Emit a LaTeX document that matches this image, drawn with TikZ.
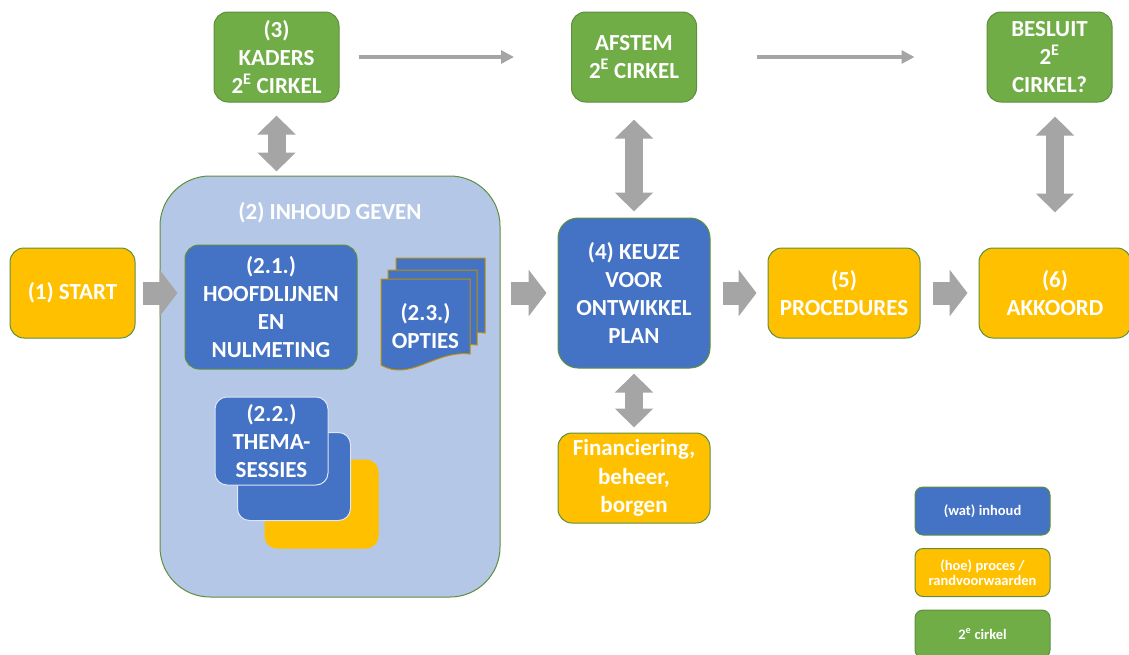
\documentclass[tikz,border=0pt]{standalone}
\usepackage{fontspec}
\setmainfont{Carlito}
\usepackage{tikz}
\usetikzlibrary{arrows.meta}
\definecolor{inhoudblauw}{HTML}{4472C4}
\definecolor{procesgeel}{HTML}{FFC000}
\definecolor{cirkelgroen}{HTML}{70AD47}
\definecolor{vlakblauw}{HTML}{B4C7E7}
\definecolor{pijlgrijs}{HTML}{A5A5A5}
\definecolor{randgroen}{HTML}{5E8F3C}
\definecolor{docrand}{HTML}{BF9000}
\newcommand*{\tweede}{2\textsuperscript{E}}

\begin{document}
\begin{tikzpicture}[x=1pt, y=-1pt,
    box/.style={rectangle, rounded corners=14pt, draw=randgroen, line width=1pt, text=white,
      align=center, inner sep=0pt, font=\bfseries\fontsize{23}{28.3}\selectfont},
    wat/.style={box, fill=inhoudblauw},
    hoe/.style={box, fill=procesgeel},
    kring/.style={box, fill=cirkelgroen},
    smal/.style={minimum width=125pt, minimum height=90pt},
    breed/.style={minimum width=152pt, minimum height=90pt},
    legenda/.style={minimum width=135pt, minimum height=48pt, rounded corners=8pt,
      font=\bfseries\fontsize{14.5}{15.5}\selectfont},
    stapel/.style={draw=vlakblauw!45!white, rounded corners=12pt, minimum width=113pt, minimum height=88pt},
    blok/.style={draw=pijlgrijs, line width=23pt, -{Triangle[width=46pt, length=18pt]}},
    heen/.style={draw=pijlgrijs, line width=18pt,
      {Triangle[width=37pt, length=19pt]}-{Triangle[width=37pt, length=19pt]}},
    dun/.style={draw=pijlgrijs, line width=3.5pt, -{Triangle[width=13pt, length=13pt]}}]
  \useasboundingbox (0,0) rectangle (1129,654);
  \clip (0,0) rectangle (1129,654);

  \node[hoe, smal] (start) at (72.5,293) {(1) START};
  \node[box, fill=vlakblauw, rounded corners=50pt, minimum width=340pt, minimum height=421pt]
    (inhoud) at (330,386.5) {};
  \node[text=white, font=\bfseries\fontsize{23}{28}\selectfont] (inhoudtitel) at (330,213) {(2) INHOUD GEVEN};
  \node[wat, minimum width=172pt, minimum height=124pt] (hoofdlijnen) at (271,307)
    {(2.1.)\\HOOFDLIJNEN\\EN\\NULMETING};

  \node[hoe, stapel, draw=procesgeel] (thema3) at (321.5,504) {};
  \node[wat, stapel] (thema2) at (294,476.5) {};
  \node[wat, stapel] (thema) at (271.5,441) {(2.2.)\\THEMA-\\SESSIES};

  \foreach \dx/\dy in {15/-21, 7/-9, 0/0}
    \filldraw[fill=inhoudblauw, draw=docrand, line width=1pt, shift={(\dx,\dy)}]
      (381,279) -- (470,279) -- (470,354) .. controls (435,350) and (410,382) .. (381,365) -- cycle;
  \node[text=white, align=center, font=\bfseries\fontsize{23}{28}\selectfont] (opties) at (425.5,326)
    {(2.3.)\\OPTIES};

  \node[kring, smal] (kaders) at (276.5,57) {(3)\\KADERS\\\tweede{} CIRKEL};
  \node[kring, smal] (afstem) at (634,57) {AFSTEM\\\tweede{} CIRKEL};
  \node[kring, smal] (besluit) at (1049.5,57) {BESLUIT\\\tweede\\CIRKEL?};
  \node[wat, minimum width=152pt, minimum height=150pt, rounded corners=20pt] (keuze) at (634,293)
    {(4) KEUZE\\VOOR\\ONTWIKKEL\\PLAN};
  \node[hoe, breed] (financiering) at (634,478) {Financiering,\\beheer,\\borgen};
  \node[hoe, breed] (procedures) at (844,293) {(5)\\PROCEDURES};
  \node[hoe, breed] (akkoord) at (1055,293) {(6)\\AKKOORD};

  \node[wat, legenda] (legwat) at (982.5,511) {(wat) inhoud};
  \node[hoe, legenda] (leghoe) at (982.5,572.5) {(hoe) proces /\\randvoorwaarden};
  \node[kring, legenda] (legkring) at (982.5,634) {2\textsuperscript{e} cirkel};

  \draw[blok, shorten <=7pt, shorten >=-18pt] (start.east) -- (start.east -| inhoud.west);
  \draw[blok, shorten <=10pt, shorten >=11pt] (inhoud.east |- keuze) -- (keuze.west);
  \draw[blok, shorten <=12pt, shorten >=11pt] (keuze) -- (procedures);
  \draw[blok, shorten <=12pt, shorten >=11pt] (procedures) -- (akkoord);

  \draw[heen, shorten <=13pt, shorten >=4pt] (kaders) -- (kaders.south |- inhoud.north);
  \draw[heen, shorten <=17pt, shorten >=6pt] (afstem) -- (keuze);
  \draw[heen, shorten <=5pt, shorten >=5pt] (keuze) -- (financiering);
  \draw[heen, shorten <=14pt, shorten >=35pt] (akkoord.north |- besluit.south) -- (akkoord.north);

  \draw[dun, shorten <=19pt, shorten >=57pt] (kaders) -- (afstem);
  \draw[dun, shorten <=60pt, shorten >=72pt] (afstem) -- (besluit);
\end{tikzpicture}
\end{document}
